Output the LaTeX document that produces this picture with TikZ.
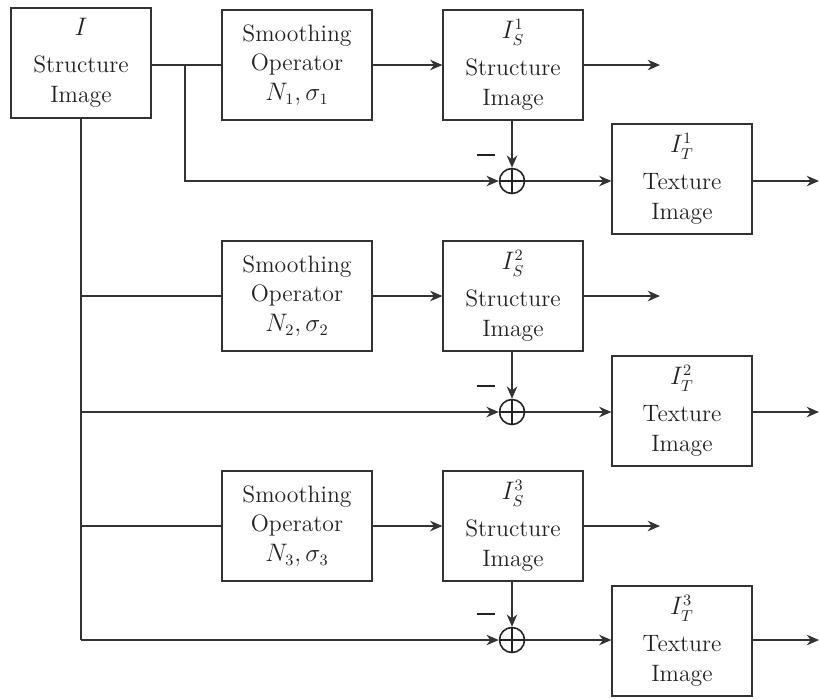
\documentclass[tikz,border=0pt]{standalone}
\usetikzlibrary{arrows.meta}
\definecolor{decompline}{HTML}{333333}
\definecolor{decomptext}{HTML}{222222}

\tikzset{
  blockbox/.style={draw=decompline, line width=0.7pt, rectangle, align=center, text=decomptext,
    minimum width=2.8cm, minimum height=2.2cm, inner sep=0pt, font=\fontsize{13.5}{17}\selectfont},
  smoothbox/.style={blockbox, minimum width=3cm},
  sumnode/.style={circle, draw=decomptext, line width=0.9pt, minimum size=0.5cm, inner sep=0pt,
    path picture={\draw[decomptext, line width=0.9pt]
      (path picture bounding box.north) -- (path picture bounding box.south)
      (path picture bounding box.west) -- (path picture bounding box.east);}},
  wire/.style={draw=decompline, line width=0.7pt},
  arr/.style={wire, -{Stealth[length=7pt, width=6pt]}}
}

\begin{document}
\begin{tikzpicture}[x=0.02cm, y=-0.02cm]
\useasboundingbox (0,0) rectangle (820,698);

% input image
\node[blockbox] (img) at (81,63) {$I$\\[4pt]Structure\\Image};

% level 1
\node[smoothbox] (sm1) at (297,65) {Smoothing\\Operator\\$N_1,\sigma_1$};
\node[blockbox] (s1) at (513,65) {$I_S^1$\\[4pt]Structure\\Image};
\node[sumnode] (p1) at (512,181) {};
\node[blockbox] (t1) at (682,179) {$I_T^1$\\[4pt]Texture\\Image};

% level 2
\node[smoothbox] (sm2) at (297,296) {Smoothing\\Operator\\$N_2,\sigma_2$};
\node[blockbox] (s2) at (513,296) {$I_S^2$\\[4pt]Structure\\Image};
\node[sumnode] (p2) at (512,412) {};
\node[blockbox] (t2) at (682,411) {$I_T^2$\\[4pt]Texture\\Image};

% level 3
\node[smoothbox] (sm3) at (297,526) {Smoothing\\Operator\\$N_3,\sigma_3$};
\node[blockbox] (s3) at (513,526) {$I_S^3$\\[4pt]Structure\\Image};
\node[sumnode] (p3) at (512,640) {};
\node[blockbox] (t3) at (682,641) {$I_T^3$\\[4pt]Texture\\Image};

% minus signs
\foreach \k/\y in {1/181, 2/412, 3/640}
  \node[inner sep=0pt, text=decomptext] (m\k) at (486,\y-26) {\rule{0.36cm}{0.9pt}};

% branch points
\coordinate (b1) at (185,65);
\coordinate (v2) at (81,296);
\coordinate (v2p) at (81,412);
\coordinate (v3) at (81,526);
\coordinate (v3p) at (81,640);

% free ends
\foreach \k/\y in {1/65, 2/296, 3/526}
  \coordinate (so\k) at (660,\y);
\foreach \k/\y in {1/181, 2/412, 3/640}
  \coordinate (to\k) at (819,\y);

% connectors
\draw[wire] (img.east |- b1) -- (sm1.west);
\draw[arr] (b1) |- (p1);
\draw[wire] (img.south) -- (v3p);
\draw[wire] (v2) -- (sm2.west);
\draw[arr] (v2p) -- (p2);
\draw[wire] (v3) -- (sm3.west);
\draw[arr] (v3p) -- (p3);

\foreach \k in {1,2,3} {
  \draw[arr] (sm\k.east) -- (s\k.west);
  \draw[arr] (p\k.north |- s\k.south) -- (p\k.north);
  \draw[arr] (p\k.east) -- (t\k.west |- p\k.east);
  \draw[arr] (s\k.east) -- (so\k);
  \draw[arr] (t\k.east |- to\k) -- (to\k);
}
\end{tikzpicture}
\end{document}
